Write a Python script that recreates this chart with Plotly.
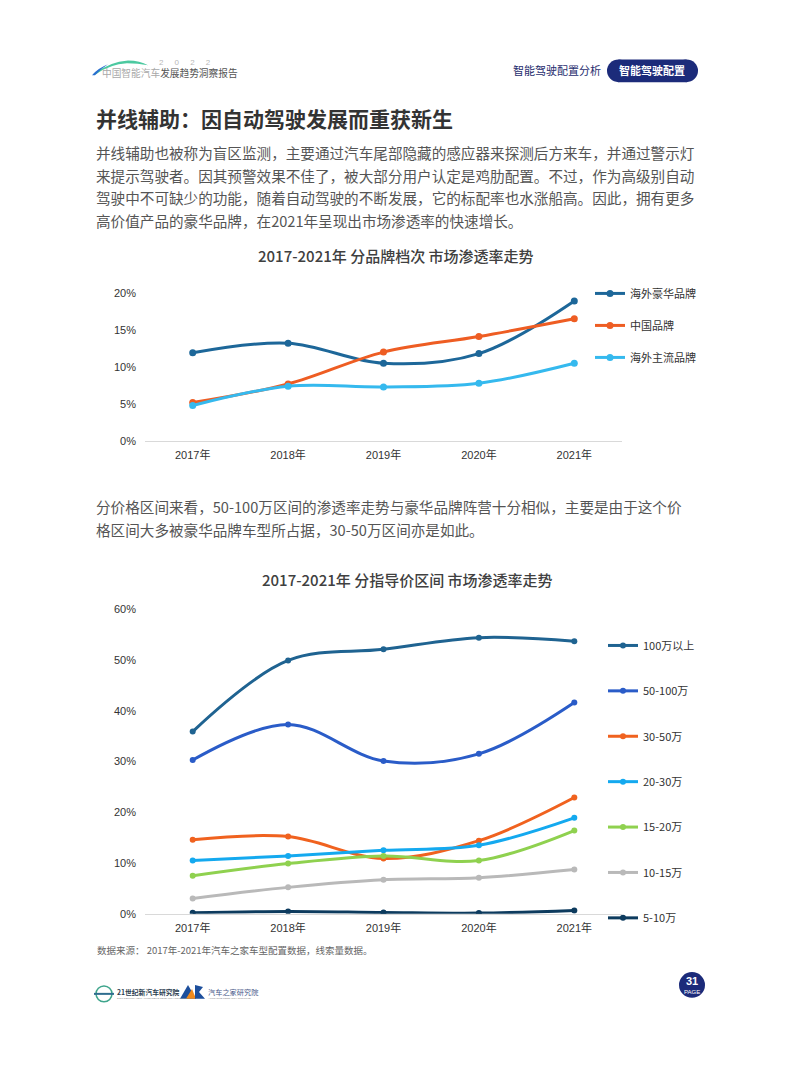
import plotly.graph_objects as go

W, H = 793, 1077

# ---------------- data ----------------
years = ["2017年", "2018年", "2019年", "2020年", "2021年"]

brand_names = ["海外豪华品牌", "中国品牌", "海外主流品牌"]
brand_lux = [11.9, 13.2, 10.5, 11.8, 18.9]
brand_cn = [5.2, 7.7, 12.0, 14.1, 16.5]
brand_main = [4.8, 7.4, 7.3, 7.8, 10.5]
brand_colors = ["#1d6799", "#ee5d23", "#35b9ee"]

price_names = ["100万以上", "50-100万", "30-50万", "20-30万", "15-20万", "10-15万", "5-10万"]
p_100 = [35.9, 49.9, 52.1, 54.4, 53.7]
p_50_100 = [30.3, 37.3, 30.1, 31.5, 41.6]
p_30_50 = [14.6, 15.2, 10.9, 14.4, 22.9]
p_20_30 = [10.5, 11.4, 12.5, 13.5, 18.9]
p_15_20 = [7.5, 9.9, 11.4, 10.5, 16.4]
p_10_15 = [3.0, 5.2, 6.7, 7.1, 8.7]
p_5_10 = [0.2, 0.45, 0.26, 0.13, 0.65]
price_colors = ["#1f6391", "#2a5cc8", "#f0621f", "#14a9ef", "#8fd14f", "#b9b9b9", "#0d3b5e"]

y1_ticks = [0, 5, 10, 15, 20]
y1_text = ["0%", "5%", "10%", "15%", "20%"]
y2_ticks = [0, 10, 20, 30, 40, 50, 60]
y2_text = ["0%", "10%", "20%", "30%", "40%", "50%", "60%"]

FONT = "Liberation Sans, Arial, Noto Sans CJK SC, sans-serif"
CJK = "Noto Sans CJK SC, sans-serif"


def px(x):
    return x / W


def py(y):
    return 1 - y / H


fig = go.Figure()

for name, vals, col in zip(brand_names, [brand_lux, brand_cn, brand_main], brand_colors):
    fig.add_trace(go.Scatter(
        x=years, y=vals, name=name, mode="lines+markers",
        line=dict(color=col, width=3, shape="spline", smoothing=1),
        marker=dict(color=col, size=7),
        xaxis="x", yaxis="y", legend="legend", legendgroup=name,
        hoverinfo="skip"))

for name, vals, col in zip(price_names, [p_100, p_50_100, p_30_50, p_20_30, p_15_20, p_10_15, p_5_10], price_colors):
    fig.add_trace(go.Scatter(
        x=years, y=vals, name=name, mode="lines+markers",
        line=dict(color=col, width=3, shape="spline", smoothing=1),
        marker=dict(color=col, size=6),
        xaxis="x2", yaxis="y2", legend="legend2", legendgroup=name,
        hoverinfo="skip"))

axis_font = dict(family=FONT, size=11, color="#333333")

fig.update_layout(
    width=W, height=H, margin=dict(l=0, r=0, t=0, b=0),
    paper_bgcolor="white", plot_bgcolor="white",
    font=dict(family=FONT, color="#333333"),
    xaxis=dict(domain=[px(145), px(622)], anchor="y", type="category",
               range=[-0.5, 4.5], showgrid=False, showline=True,
               linecolor="#d9d9d9", linewidth=1, ticks="", tickfont=axis_font,
               ticklabelstandoff=4, zeroline=False, fixedrange=True),
    yaxis=dict(domain=[py(440), py(290)], anchor="x", range=[0, 20],
               tickvals=y1_ticks, ticktext=y1_text, showgrid=False,
               showline=False, zeroline=False, tickfont=axis_font,
               ticklabelstandoff=8, fixedrange=True),
    xaxis2=dict(domain=[px(145), px(622)], anchor="y2", type="category",
                range=[-0.5, 4.5], showgrid=False, showline=True,
                linecolor="#d9d9d9", linewidth=1, ticks="", tickfont=axis_font,
                ticklabelstandoff=4, zeroline=False, fixedrange=True),
    yaxis2=dict(domain=[py(918), py(610)], anchor="x2", range=[0, 60],
                tickvals=y2_ticks, ticktext=y2_text, showgrid=False,
                showline=False, zeroline=False, tickfont=axis_font,
                ticklabelstandoff=8, fixedrange=True),
    legend=dict(x=px(590), y=py(276), xanchor="left", yanchor="top",
                traceorder="grouped", tracegroupgap=13,
                font=dict(family=CJK, size=11, color="#333333"),
                bgcolor="rgba(0,0,0,0)"),
    legend2=dict(x=px(603), y=py(632), xanchor="left", yanchor="top",
                 traceorder="grouped", tracegroupgap=26.4,
                 font=dict(family=CJK, size=11, color="#333333"),
                 bgcolor="rgba(0,0,0,0)"),
)

ann = []


def text(x, y, s, size, color="#333333", anchor="left", family=CJK, weight="normal"):
    ann.append(dict(x=px(x), y=py(y), xref="paper", yref="paper", text=s,
                    showarrow=False, xanchor=anchor, yanchor="middle",
                    font=dict(family=family, size=size, color=color, weight=weight)))


# header
text(157, 57, "2 &nbsp; &nbsp; 0 &nbsp; &nbsp; 2 &nbsp; &nbsp; 2", 8, "#b8b8b8", family=FONT)
text(100, 68, "<span style='color:#a8a8a8'>中国智能汽车</span><span style='color:#555555'>发展趋势洞察报告</span>", 9.7)
text(557, 65, "智能驾驶配置分析", 11, "#1f2d6e", anchor="center")
text(652, 65, "智能驾驶配置", 11, "#ffffff", anchor="center", weight="bold")

# heading and paragraphs
text(94, 113, "并线辅助：因自动驾驶发展而重获新生", 21, "#333333", weight="bold")
para1 = [
    "并线辅助也被称为盲区监测，主要通过汽车尾部隐藏的感应器来探测后方来车，并通过警示灯",
    "来提示驾驶者。因其预警效果不佳了，被大部分用户认定是鸡肋配置。不过，作为高级别自动",
    "驾驶中不可缺少的功能，随着自动驾驶的不断发展，它的标配率也水涨船高。因此，拥有更多",
    "高价值产品的豪华品牌，在2021年呈现出市场渗透率的快速增长。",
]
for i, line in enumerate(para1):
    text(94, 148 + i * 23, line, 14.6, "#555555")

para2 = [
    "分价格区间来看，50-100万区间的渗透率走势与豪华品牌阵营十分相似，主要是由于这个价",
    "格区间大多被豪华品牌车型所占据，30-50万区间亦是如此。",
]
for i, line in enumerate(para2):
    text(94, 506 + i * 23, line, 14.6, "#555555")

# chart titles
text(396, 252, "2017-2021年 分品牌档次 市场渗透率走势", 15, "#404040", anchor="center", weight=500)
text(407, 580, "2017-2021年 分指导价区间 市场渗透率走势", 15, "#404040", anchor="center", weight=500)

# source
text(95, 955, "数据来源： 2017年-2021年汽车之家车型配置数据，线索量数据。", 9.5, "#666666")

# footer
text(115, 997, "<b>21世纪新汽车研究院</b>", 6.8, "#2c3e50")
text(115, 1003.5, "21ST CENTURY NEW AUTOMOBILE RESEARCH INSTITUTE", 2.5, "#888888", family=FONT)
text(206, 997, "汽车之家研究院", 7.2, "#4a5a8a")
text(206, 1003.5, "AUTOHOME RESEARCH INSTITUTE", 2.5, "#888888", family=FONT)
text(692, 986, "<b>31</b>", 11, "#ffffff", anchor="center", family=FONT)
text(692, 997, "PAGE", 6, "#ffffff", anchor="center", family=FONT)

fig.update_layout(annotations=ann)


def box(x0, y0, x1, y1):
    return dict(x0=px(x0), x1=px(x1), y0=py(y1), y1=py(y0), xref="paper", yref="paper")


def path(pts_str):
    return dict(type="path", xref="paper", yref="paper", path=pts_str, line=dict(width=0))


shapes = []
# pill
shapes.append(dict(type="rect", fillcolor="#1c2b7a", line=dict(width=0), **box(618.5, 54, 686.5, 77)))
shapes.append(dict(type="circle", fillcolor="#1c2b7a", line=dict(width=0), **box(607, 54, 630, 77)))
shapes.append(dict(type="circle", fillcolor="#1c2b7a", line=dict(width=0), **box(675, 54, 698, 77)))
# page badge
shapes.append(dict(type="circle", fillcolor="#1c2b7a", line=dict(width=0), **box(679, 977, 705, 1003)))
# footer globe logo
shapes.append(dict(type="circle", fillcolor="rgba(0,0,0,0)", line=dict(width=1.5, color="#3fa58c"), **box(96, 991, 112, 1007)))
shapes.append(dict(type="line", xref="paper", yref="paper", x0=px(94), x1=px(114), y0=py(999), y1=py(999),
                   line=dict(width=2, color="#2f6d8f")))
# AR logo
s = path(f"M{px(180)},{py(1004)} L{px(188)},{py(990)} L{px(196)},{py(1004)} Z")
s["fillcolor"] = "#1d4f9c"
shapes.append(s)
s = path(f"M{px(186)},{py(1004)} L{px(192)},{py(994)} L{px(196)},{py(1004)} Z")
s["fillcolor"] = "#f08a1c"
shapes.append(s)
s = path(f"M{px(195)},{py(1004)} L{px(195)},{py(990)} L{px(203)},{py(992)} L{px(199)},{py(997)} L{px(205)},{py(1004)} Z")
s["fillcolor"] = "#1d4f9c"
shapes.append(s)
# header car swoosh
s = path(f"M{px(93)},{py(69)} Q{px(110)},{py(56)} {px(128)},{py(55)} Q{px(140)},{py(55)} {px(148)},{py(60)} "
         f"Q{px(138)},{py(58)} {px(127)},{py(58)} Q{px(110)},{py(59)} {px(96)},{py(69)} Z")
s["fillcolor"] = "#4cc9a0"
shapes.append(s)
s = path(f"M{px(92)},{py(70)} Q{px(98)},{py(63)} {px(108)},{py(59)} Q{px(100)},{py(64)} {px(95)},{py(70)} Z")
s["fillcolor"] = "#2a6fd0"
shapes.append(s)
fig.update_layout(shapes=shapes)

fig.write_html("out.html", config={"displayModeBar": False},
               post_script="document.body.style.margin='0';document.body.style.overflow='hidden';")
